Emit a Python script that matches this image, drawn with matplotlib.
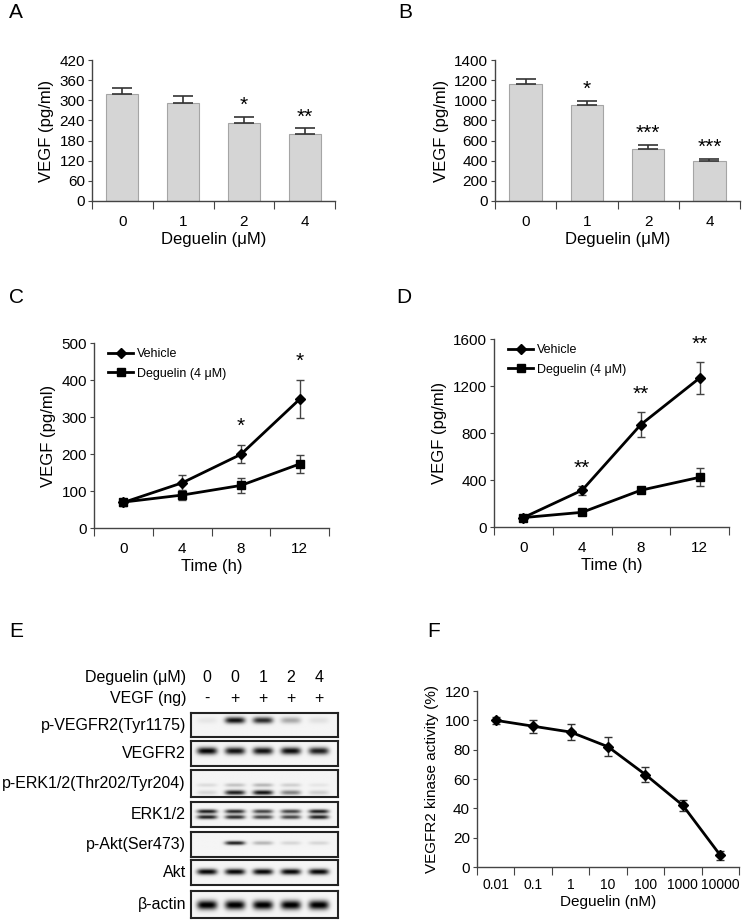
import numpy as np
import matplotlib
matplotlib.use('Agg')
import matplotlib.pyplot as plt

plt.rcParams['font.family'] = ['Liberation Sans', 'DejaVu Sans']

W, H = 745, 921

# ---- data ----
dose_labels = ['0', '1', '2', '4']
vegf_a = [318, 291, 233, 201]
vegf_a_err = [19, 23, 16, 15]
stars_a = ['', '', '*', '**']

vegf_b = [1158, 953, 516, 394]
vegf_b_err = [50, 40, 40, 23]
stars_b = ['', '*', '***', '***']

time_labels = ['0', '4', '8', '12']
c_vehicle = [69, 122, 199, 348]
c_vehicle_err = [10, 20, 24, 51]
c_deguelin = [70, 89, 115, 173]
c_deguelin_err = [8, 12, 20, 24]
stars_c = ['', '', '*', '*']

d_vehicle = [80, 313, 872, 1268]
d_vehicle_err = [15, 37, 108, 133]
d_deguelin = [80, 125, 313, 423]
d_deguelin_err = [12, 15, 25, 75]
stars_d = ['', '**', '**', '**']

nm_labels = ['0.01', '0.1', '1', '10', '100', '1000', '10000']
kinase = [100, 96, 92, 82, 63, 42, 8]
kinase_err = [2.5, 4.5, 5.5, 6.5, 5, 4, 3]

lane_deguelin = ['0', '0', '1', '2', '4']
lane_vegf = ['-', '+', '+', '+', '+']
blot_rows = ['p-VEGFR2(Tyr1175)', 'VEGFR2', 'p-ERK1/2(Thr202/Tyr204)', 'ERK1/2',
             'p-Akt(Ser473)', 'Akt', '\u03b2-actin']
# band intensities per lane (one list per band in the row)
blot_bands = [
    [[0.06, 0.9, 0.8, 0.3, 0.08]],
    [[0.95, 0.9, 0.9, 0.92, 0.85]],
    [[0.1, 0.2, 0.25, 0.15, 0.06], [0.12, 0.85, 0.9, 0.45, 0.15]],
    [[0.85, 0.8, 0.7, 0.7, 0.85], [0.85, 0.8, 0.7, 0.7, 0.85]],
    [[0.0, 0.85, 0.25, 0.12, 0.12]],
    [[0.95, 0.95, 0.95, 0.95, 0.95]],
    [[1.0, 1.0, 1.0, 1.0, 1.0]],
]

fig = plt.figure(figsize=(W / 100, H / 100), dpi=100)


def px_axes(l, t, r, b):
    return fig.add_axes([l / W, 1 - b / H, (r - l) / W, (b - t) / H])


def style(ax, n, labels, ylim, ystep):
    for s in ['top', 'right']:
        ax.spines[s].set_visible(False)
    for s in ['left', 'bottom']:
        ax.spines[s].set_color('#444444')
        ax.spines[s].set_linewidth(1.0)
    ax.set_xlim(-0.5, n - 0.5)
    ax.set_xticks(np.arange(-0.5, n, 1.0))
    ax.set_xticklabels([])
    ax.set_xticks(np.arange(n), minor=True)
    ax.set_xticklabels(labels, minor=True)
    ax.tick_params(axis='x', which='major', length=6, color='#444444', direction='out')
    ax.tick_params(axis='x', which='minor', length=0, pad=10, labelsize=11)
    ax.set_ylim(*ylim)
    ax.set_yticks(np.arange(ylim[0], ylim[1] + 1, ystep))
    ax.tick_params(axis='y', length=3, color='#444444', labelsize=11, pad=2)


def bar_panel(ax, vals, err, stars, ylim, ystep):
    x = np.arange(len(vals))
    ax.bar(x, vals, width=0.53, color='#d5d5d5', edgecolor='#a5a5a5', linewidth=0.8, zorder=2)
    ax.errorbar(x, vals, yerr=[np.zeros(len(vals)), err], fmt='none', ecolor='#333333',
                elinewidth=1.2, capsize=7, capthick=1.2, zorder=3)
    off = (ylim[1] - ylim[0]) * 0.015
    for xi, v, e, s in zip(x, vals, err, stars):
        if s:
            ax.text(xi, v + e + off, s, ha='center', va='bottom', fontsize=15)
    style(ax, len(vals), dose_labels, ylim, ystep)
    ax.set_xlabel('Deguelin (\u03bcM)', fontsize=12, labelpad=2)
    ax.set_ylabel('VEGF (pg/ml)', fontsize=12, labelpad=4)


def line_panel(ax, veh, veh_e, deg, deg_e, stars, ylim, ystep, star_off):
    x = np.arange(len(veh))
    ax.errorbar(x, veh, yerr=veh_e, fmt='none', ecolor='#444444', elinewidth=1, capsize=3)
    ax.errorbar(x, deg, yerr=deg_e, fmt='none', ecolor='#444444', elinewidth=1, capsize=3)
    ax.plot(x, veh, color='black', lw=2, marker='D', ms=5.5, label='Vehicle', clip_on=False)
    ax.plot(x, deg, color='black', lw=2, marker='s', ms=6, label='Deguelin (4 \u03bcM)', clip_on=False)
    for xi, v, e, s in zip(x, veh, veh_e, stars):
        if s:
            ax.text(xi, v + e + star_off, s, ha='center', va='bottom', fontsize=15)
    style(ax, len(veh), time_labels, ylim, ystep)
    ax.set_xlabel('Time (h)', fontsize=12, labelpad=2)
    ax.set_ylabel('VEGF (pg/ml)', fontsize=12, labelpad=4)
    ax.legend(loc='upper left', bbox_to_anchor=(0.04, 1.0), frameon=False, fontsize=9,
              handlelength=2.0, handletextpad=0.3, labelspacing=0.6, borderaxespad=0)


# ---- A ----
axA = px_axes(92, 60, 335, 201)
bar_panel(axA, vegf_a, vegf_a_err, stars_a, (0, 420), 60)

# ---- B ----
axB = px_axes(495, 60, 740, 201)
bar_panel(axB, vegf_b, vegf_b_err, stars_b, (0, 1400), 200)

# ---- C ----
axC = px_axes(94, 343, 329, 528)
line_panel(axC, c_vehicle, c_vehicle_err, c_deguelin, c_deguelin_err, stars_c, (0, 500), 100, 25)

# ---- D ----
axD = px_axes(494, 339, 729, 527)
line_panel(axD, d_vehicle, d_vehicle_err, d_deguelin, d_deguelin_err, stars_d, (0, 1600), 400, 70)

# ---- F ----
axF = px_axes(477, 691, 739, 867)
xf = np.arange(len(kinase))
axF.errorbar(xf, kinase, yerr=kinase_err, fmt='none', ecolor='#333333', elinewidth=1, capsize=3)
axF.plot(xf, kinase, color='black', lw=2, marker='D', ms=5.5)
style(axF, len(kinase), nm_labels, (0, 120), 20)
axF.tick_params(axis='x', which='minor', pad=8, labelsize=10)
axF.set_xlabel('Deguelin (nM)', fontsize=11, labelpad=2)
axF.set_ylabel('VEGFR2 kinase activity (%)', fontsize=11, labelpad=4)

# ---- E : western blot ----
row_px = [(713, 737), (741, 766), (770, 797), (802, 827), (832, 857), (860, 885), (891, 918)]
band_y = [[0.33], [0.42], [0.56, 0.84], [0.4, 0.62], [0.44], [0.47], [0.52]]
band_th = [[0.13], [0.14], [0.07, 0.09], [0.08, 0.08], [0.08], [0.12], [0.17]]
blot_l, blot_r = 191, 338
lanes = np.arange(5)
x0, x1 = -0.57, 4.68
xx = np.linspace(x0, x1, 300)
yy = np.linspace(0, 1, 80)
X, Y = np.meshgrid(xx, yy)
for i, (label, bands) in enumerate(zip(blot_rows, blot_bands)):
    t, b = row_px[i]
    ax = px_axes(blot_l, t, blot_r, b)
    img = np.full_like(X, 0.04)
    for yc, th, inten in zip(band_y[i], band_th[i], bands):
        for ln, v in zip(lanes, inten):
            img += v * np.exp(-((X - ln) / 0.36) ** 4) * np.exp(-((Y - yc) / th) ** 2)
    ax.imshow(np.clip(img, 0, 1), cmap='gray_r', vmin=0, vmax=1, aspect='auto',
              extent=[x0, x1, 1, 0], interpolation='bilinear')
    ax.set_xticks([])
    ax.set_yticks([])
    for s in ax.spines.values():
        s.set_linewidth(1.5)
        s.set_color('#222222')
    fig.text(186 / W, 1 - (t + b) / 2 / H, label, ha='right', va='center', fontsize=11.5)

lane_px = [207, 235, 263, 291, 319]
fig.text(186 / W, 1 - 677 / H, 'Deguelin (\u03bcM)', ha='right', va='center', fontsize=11.5)
fig.text(186 / W, 1 - 698 / H, 'VEGF (ng)', ha='right', va='center', fontsize=11.5)
for lx, a, v in zip(lane_px, lane_deguelin, lane_vegf):
    fig.text(lx / W, 1 - 677 / H, a, ha='center', va='center', fontsize=11.5)
    fig.text(lx / W, 1 - 698 / H, v, ha='center', va='center', fontsize=11.5)

# panel letters
for letter, lx, ly in [('A', 9, 3), ('B', 398, 3), ('C', 9, 288), ('D', 396, 288),
                       ('E', 9, 622), ('F', 427, 622)]:
    fig.text(lx / W, 1 - ly / H, letter, ha='left', va='top', fontsize=15)

fig.savefig('out.png', dpi=100)
